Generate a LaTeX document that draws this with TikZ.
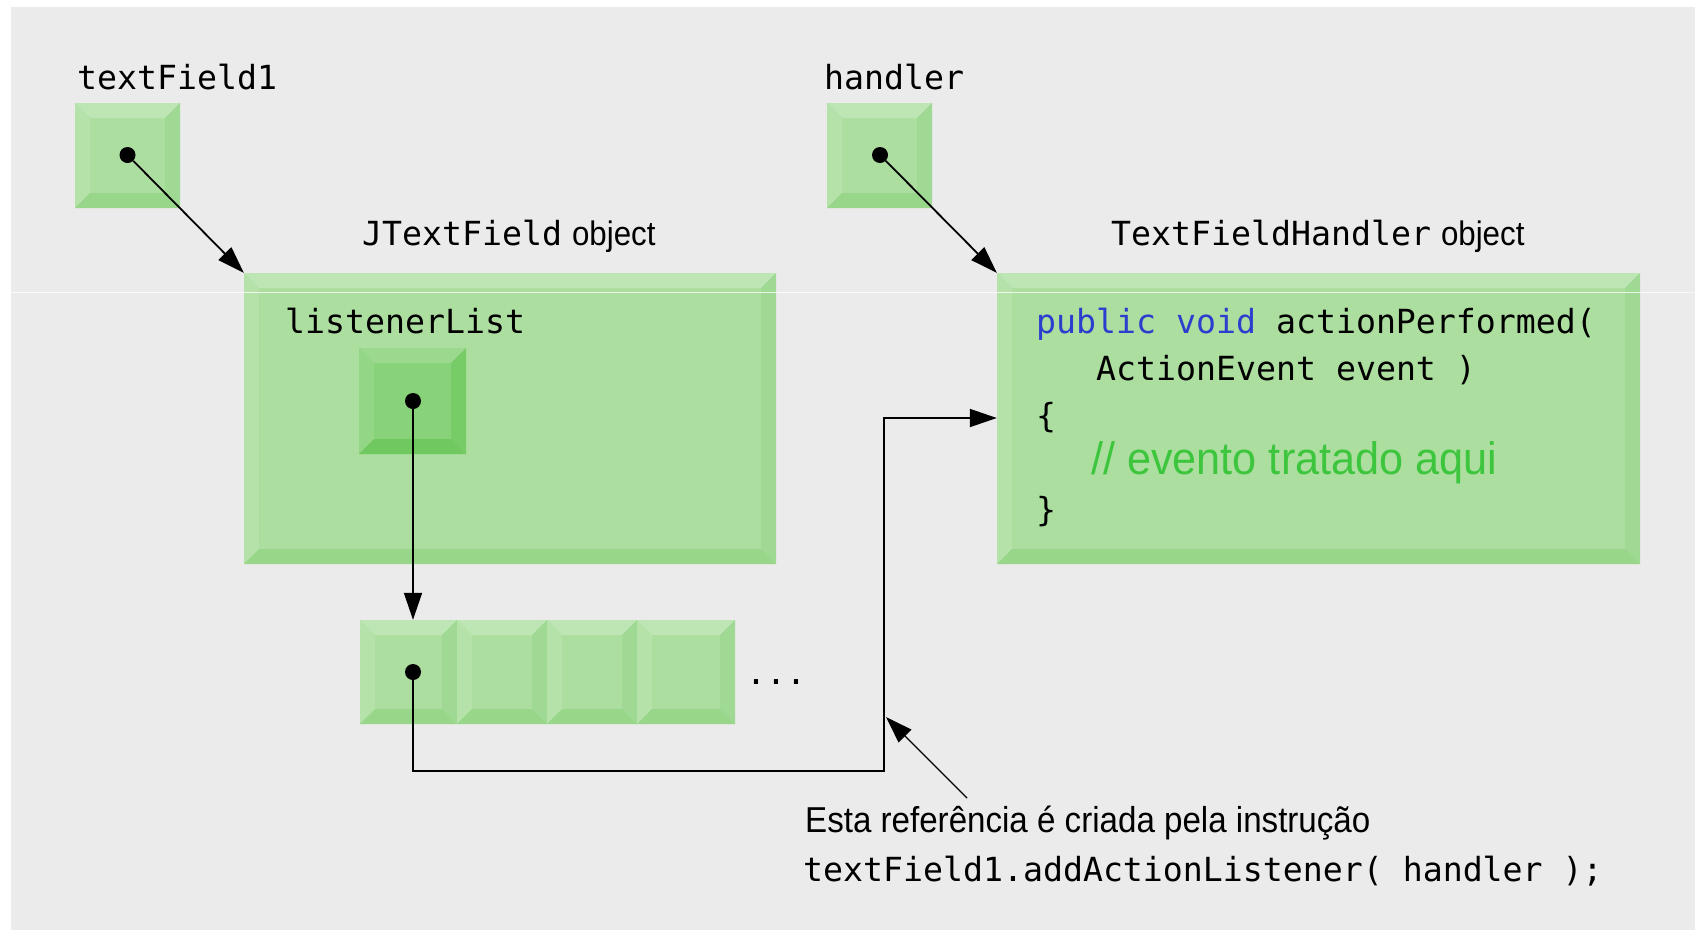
\documentclass[tikz,border=0pt]{standalone}
\usepackage{fontspec}
\usetikzlibrary{arrows.meta,calc}
\newfontfamily\monofam{DejaVu Sans Mono}
\newfontfamily\sansfam[FakeStretch=0.92]{Liberation Sans}
\newfontfamily\commentfam[FakeStretch=0.95]{Liberation Sans}
\newcommand\mono{\monofam\fontsize{33.2}{40}\selectfont}
\newcommand\sansobj{\sansfam\fontsize{34}{40}\selectfont}
\definecolor{bg}{HTML}{EBEBEB}
\definecolor{oface}{HTML}{ACDE9F}
\definecolor{otop}{HTML}{BEE6B4}
\definecolor{oleft}{HTML}{B4E2A9}
\definecolor{oright}{HTML}{A0D994}
\definecolor{obottom}{HTML}{98D68A}
\definecolor{iface}{HTML}{88D27A}
\definecolor{itop}{HTML}{9CD98F}
\definecolor{ileft}{HTML}{93D686}
\definecolor{iright}{HTML}{77CC67}
\definecolor{ibottom}{HTML}{70C960}
\definecolor{kwblue}{HTML}{2B3FCF}
\definecolor{cmgreen}{HTML}{3DC63D}
\newcommand\bevelfill[5]{%
  \coordinate (bvSW) at (path picture bounding box.south west);
  \coordinate (bvNW) at (path picture bounding box.north west);
  \coordinate (bvNE) at (path picture bounding box.north east);
  \coordinate (bvSE) at (path picture bounding box.south east);
  \coordinate (ivNW) at ($(bvNW)+(#5pt,-#5pt)$);
  \coordinate (ivNE) at ($(bvNE)+(-#5pt,-#5pt)$);
  \coordinate (ivSE) at ($(bvSE)+(-#5pt,#5pt)$);
  \coordinate (ivSW) at ($(bvSW)+(#5pt,#5pt)$);
  \fill[#1] (bvNW) -- (bvNE) -- (ivNE) -- (ivNW) -- cycle;
  \fill[#2] (bvNW) -- (ivNW) -- (ivSW) -- (bvSW) -- cycle;
  \fill[#3] (bvNE) -- (bvSE) -- (ivSE) -- (ivNE) -- cycle;
  \fill[#4] (bvSW) -- (ivSW) -- (ivSE) -- (bvSE) -- cycle;
}
\tikzset{
  obox/.style={rectangle, inner sep=0pt, draw=none, fill=oface,
    path picture={\bevelfill{otop}{oleft}{oright}{obottom}{15}}},
  ibox/.style={rectangle, inner sep=0pt, draw=none, fill=iface,
    path picture={\bevelfill{itop}{ileft}{iright}{ibottom}{15}}},
  dotnode/.style={circle, fill=black, inner sep=0pt, minimum size=16pt},
  arr/.style={draw=black, line width=1.8pt, -{Triangle[length=27pt,width=18pt]}},
  thinarr/.style={draw=black, line width=1.4pt, -{Triangle[length=27pt,width=18pt]}},
  txt/.style={inner sep=0pt, anchor=base west}
}
\begin{document}
\begin{tikzpicture}[x=1pt,y=-1pt]
\useasboundingbox (0,0) rectangle (1695,930);
\fill[bg] (11,7) rectangle (1695,930);
% boxes
\node[obox, minimum width=105pt, minimum height=105pt] (tfbox) at (127.5,155.5) {};
\node[obox, minimum width=105pt, minimum height=105pt] (hbox) at (879.5,155.5) {};
\node[obox, minimum width=532pt, minimum height=291pt] (jtf) at (510,418.5) {};
\node[obox, minimum width=643pt, minimum height=291pt] (tfh) at (1318.5,418.5) {};
\node[ibox, minimum width=107pt, minimum height=106pt] (lbox) at (412.5,401) {};
\node[obox, minimum width=97pt, minimum height=104pt] (c1) at (408.5,672) {};
\node[obox, minimum width=90pt, minimum height=104pt] (c2) at (502,672) {};
\node[obox, minimum width=90pt, minimum height=104pt] (c3) at (592,672) {};
\node[obox, minimum width=98pt, minimum height=104pt] (c4) at (686,672) {};
\draw[white, line width=1pt, opacity=.75] (11,292) -- (1695,292);
% dots
\node[dotnode] (d1) at (127.5,155) {};
\node[dotnode] (d2) at (880,155) {};
\node[dotnode] (d3) at (413,401) {};
\node[dotnode] (d4) at (413,672) {};
% connectors
\draw[arr] (d1) -- (jtf.north west);
\draw[arr] (d2) -- (tfh.north west);
\draw[arr] (d3) -- (d3 |- c1.north);
\coordinate (bend1) at (884,771);
\coordinate (bend2) at (884,418);
\draw[arr] (d4) |- (bend1) -- (bend2) -- (bend2 -| tfh.west);
\coordinate (anntail) at (967,798);
\coordinate (annhit) at (886,717);
\draw[thinarr] (anntail) -- (annhit);
% labels
\node[txt] (tflbl) at (77,89) {\mono textField1};
\node[txt] (hlbl) at (824,89) {\mono handler};
\node[txt] (jtflbl) at (362,245) {\mono JTextField\hspace{10pt}\sansobj object};
\node[txt] (tfhlbl) at (1111,245) {\mono TextFieldHandler\hspace{10pt}\sansobj object};
\node[txt] (llbl) at (285,333) {\mono listenerList};
\node[txt] (dots) at (746,684) {\mono ...};
% code
\node[txt] (code1) at (1036,333) {\mono\textcolor{kwblue}{public void} actionPerformed(};
\node[txt] (code2) at (1096,380) {\mono ActionEvent event )};
\node[txt] (code3) at (1036,427) {\mono \{};
\node[txt] (code4) at (1091,474) {\commentfam\fontsize{45.5}{52}\selectfont\color{cmgreen}// evento tratado aqui};
\node[txt] (code5) at (1036,521) {\mono \}};
% annotation
\node[txt] (note1) at (805,832) {\sansfam\fontsize{36}{43}\selectfont Esta referência é criada pela instrução};
\node[txt] (note2) at (803,881) {\mono textField1.addActionListener( handler );};
\end{tikzpicture}
\end{document}
